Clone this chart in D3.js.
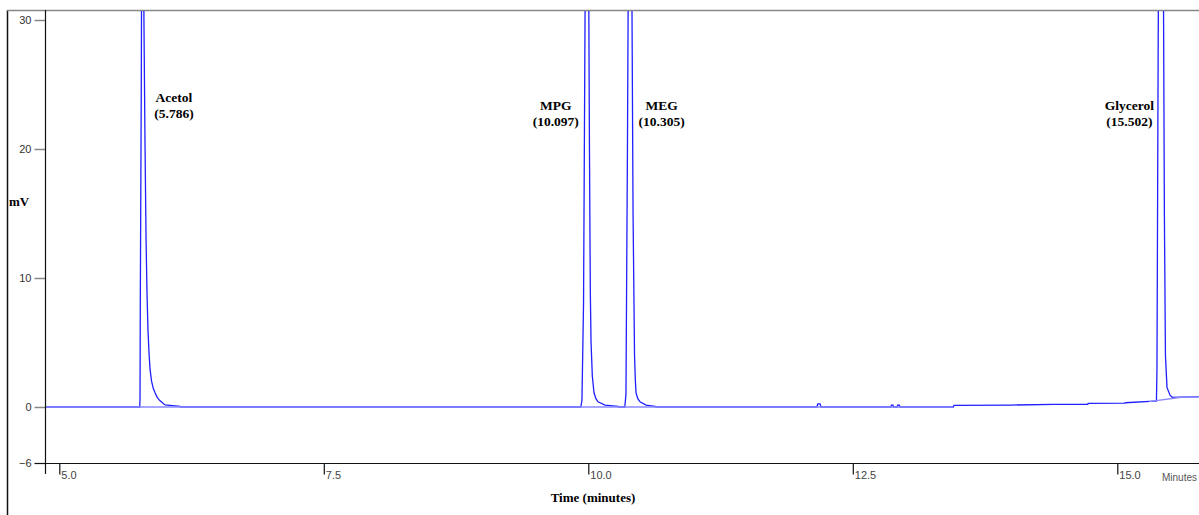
<!DOCTYPE html>
<html>
<head>
<meta charset="utf-8">
<script src="https://cdn.jsdelivr.net/npm/d3@7"></script>
<style>
  body { margin: 0; background: #fff; }
  svg { display: block; }
</style>
</head>
<body>
<svg id="chart" width="1199" height="515"></svg>
<script>
// Chromatogram trace: [time (min), signal (mV)]
var leadIn = [[4.875, 0], [5.760, 0]];
var acetol = [[5.763, 0.6], [5.766, 9], [5.775, 25], [5.782, 45], [5.791, 45], [5.800, 30],
              [5.810, 20.5], [5.820, 13], [5.829, 8.8], [5.838, 6], [5.848, 4.2], [5.858, 2.9],
              [5.872, 2.0], [5.888, 1.45], [5.905, 1.1], [5.925, 0.75], [5.950, 0.5],
              [6.000, 0.16], [6.140, 0.05], [6.150, 0]];
var mpg = [[9.929, 0], [9.940, 0.5], [9.955, 8], [9.969, 30], [9.983, 45], [9.997, 45],
           [10.011, 20], [10.019, 9], [10.026, 5], [10.038, 2.4], [10.054, 1.1], [10.072, 0.65],
           [10.092, 0.4], [10.158, 0.15], [10.281, 0.05], [10.290, 0]];
var meg = [[10.345, 0], [10.356, 1], [10.370, 20], [10.385, 45], [10.404, 45], [10.423, 15],
           [10.437, 4], [10.444, 2.2], [10.451, 1.1], [10.468, 0.65], [10.489, 0.4],
           [10.546, 0.15], [10.631, 0.05], [10.640, 0]];
var drift = [[12.160, 0], [12.170, 0.25], [12.190, 0.25], [12.200, 0],
             [12.860, 0], [12.865, 0.15], [12.880, 0.15], [12.885, 0],
             [12.920, 0], [12.925, 0.15], [12.940, 0.15], [12.945, 0],
             [13.450, 0], [13.455, 0.12], [14.000, 0.15], [14.400, 0.2], [14.720, 0.2],
             [14.725, 0.28], [15.070, 0.3], [15.075, 0.33], [15.350, 0.45]];
var glycerol = [[15.370, 0.45], [15.375, 3], [15.385, 25], [15.395, 45], [15.430, 45],
                [15.445, 15], [15.455, 4], [15.470, 1.5], [15.500, 0.9], [15.520, 0.75],
                [15.770, 0.8]];
// integration baseline drawn by the software
var baseline = [[4.875, 0], [13.450, 0]];
var baselineEnd = [[15.300, 0.42], [15.620, 0.78], [15.770, 0.78]];

// Peak annotations
var peakNames = ['Acetol', 'MPG', 'MEG', 'Glycerol'];
var peakTimes = ['5.786', '10.097', '10.305', '15.502'];
var peakApex = [5.786, 9.990, 10.395, 15.412];
var peakSide = [1, -1, 1, -1];

var xTicks = [5.0, 7.5, 10.0, 12.5, 15.0];
var yTicks = [-6, 0, 10, 20, 30];

var svg = d3.select('#chart');
var plotLeft = 46, plotRight = 1199, plotTop = 10, plotBottom = 463;

var x = d3.scaleLinear().domain([5, 15]).range([59.3, 1117.3]);
var y = d3.scaleLinear().domain([-6, 0, 30]).range([463, 407, 20]);

// Outer frame
svg.append('line')
   .attr('x1', 7.5).attr('x2', 7.5).attr('y1', plotTop).attr('y2', 515)
   .attr('stroke', '#111').attr('stroke-width', 1.5);
svg.append('line')
   .attr('x1', 7).attr('x2', plotRight).attr('y1', plotTop + 0.5).attr('y2', plotTop + 0.5)
   .attr('stroke', '#888').attr('stroke-width', 1.5);

svg.append('clipPath').attr('id', 'plot')
   .append('rect').attr('x', plotLeft).attr('y', plotTop + 1)
   .attr('width', plotRight - plotLeft).attr('height', plotBottom - plotTop - 1);

var g = svg.append('g').attr('clip-path', 'url(#plot)');
var line = d3.line()
             .x(function (d) { return x(d[0]); })
             .y(function (d) { return y(d[1]); });

var trace = [].concat(leadIn, acetol, mpg, meg, drift, glycerol);
g.append('path')
 .attr('d', line(trace))
 .attr('fill', 'none')
 .attr('stroke', '#1f1fff')
 .attr('stroke-width', 1.3);

[baseline, baselineEnd].forEach(function (b) {
  g.append('path')
   .attr('d', line(b))
   .attr('fill', 'none')
   .attr('stroke', '#8a8aff')
   .attr('stroke-width', 1.4);
});

// Y axis
var yAxis = svg.append('g')
               .attr('transform', 'translate(45.5,0)')
               .call(d3.axisLeft(y).tickValues(yTicks).tickSize(11).tickSizeOuter(0)
                       .tickFormat(d3.format('d')));
yAxis.select('.domain').remove();
yAxis.selectAll('.tick line').attr('stroke', function (d) { return d === -6 ? '#111' : '#888'; })
     .attr('stroke-width', function (d) { return d === -6 ? 1.2 : 1.5; });
yAxis.selectAll('.tick text')
     .attr('x', -14)
     .attr('font-family', '"Liberation Sans", Arial, sans-serif')
     .attr('font-size', 11)
     .attr('fill', '#333');
svg.append('line')
   .attr('x1', 45.5).attr('x2', 45.5).attr('y1', plotTop).attr('y2', 474)
   .attr('stroke', '#111').attr('stroke-width', 1.2);

// X axis
svg.append('line')
   .attr('x1', 45).attr('x2', plotRight).attr('y1', plotBottom + 0.5).attr('y2', plotBottom + 0.5)
   .attr('stroke', '#111').attr('stroke-width', 1.2);
var xAxis = svg.append('g')
               .attr('transform', 'translate(0,' + (plotBottom + 0.5) + ')')
               .call(d3.axisBottom(x).tickValues(xTicks).tickSize(11).tickSizeOuter(0)
                       .tickFormat(d3.format('.1f')));
xAxis.select('.domain').remove();
xAxis.selectAll('.tick line').attr('stroke', '#111').attr('stroke-width', 1.2);
xAxis.selectAll('.tick text')
     .attr('text-anchor', 'start')
     .attr('x', 1.5)
     .attr('y', 8)
     .attr('font-family', '"Liberation Sans", Arial, sans-serif')
     .attr('font-size', 11)
     .attr('fill', '#444');
svg.append('text')
   .attr('x', 1162).attr('y', 481)
   .attr('font-family', '"Liberation Sans", Arial, sans-serif')
   .attr('font-size', 10)
   .attr('fill', '#555')
   .text('Minutes');

// Axis titles
var serif = '"Liberation Serif", "Times New Roman", serif';
svg.append('text')
   .attr('x', 593).attr('y', 502)
   .attr('text-anchor', 'middle')
   .attr('font-family', serif).attr('font-weight', 'bold').attr('font-size', 13)
   .text('Time (minutes)');
svg.append('text')
   .attr('x', 9).attr('y', 206)
   .attr('font-family', serif).attr('font-weight', 'bold').attr('font-size', 13)
   .text('mV');

// Peak labels
peakNames.forEach(function (name, i) {
  var cx = x(peakApex[i]) + peakSide[i] * 31.5;
  var y0 = i === 0 ? 102 : 110;
  var t = svg.append('text')
             .attr('text-anchor', 'middle')
             .attr('font-family', serif).attr('font-weight', 'bold').attr('font-size', 13.5);
  t.append('tspan').attr('x', cx).attr('y', y0).text(name);
  t.append('tspan').attr('x', cx).attr('y', y0 + 16).text('(' + peakTimes[i] + ')');
});
</script>
</body>
</html>
